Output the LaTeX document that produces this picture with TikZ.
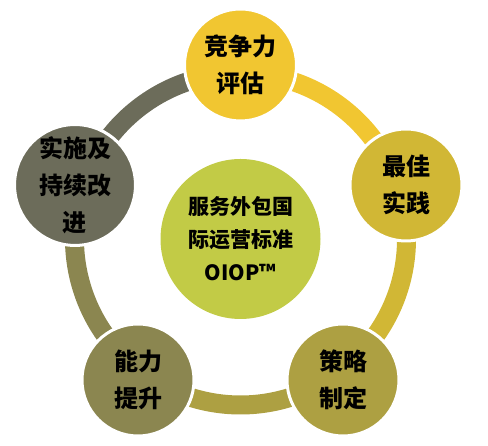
\documentclass[tikz,border=0pt]{standalone}
\usepackage{fontspec}
\usepackage{xcolor}
\usepackage{tikz}
\newfontfamily\cjk{Noto Sans CJK SC}[BoldFont={Noto Sans CJK SC Black}]
\definecolor{OIYellow}{HTML}{F1C631}
\definecolor{OIGold}{HTML}{D1B735}
\definecolor{OIOlive}{HTML}{ADA042}
\definecolor{OIKhaki}{HTML}{8B8650}
\definecolor{OIGrey}{HTML}{6C6C5A}
\definecolor{OILime}{HTML}{C2CB46}

\begin{document}
\begin{tikzpicture}[x=1pt,y=1pt,
  stage/.style={circle,minimum size=112pt,inner sep=0pt,draw=white,line width=3pt,
    align=center,font=\cjk\bfseries\fontsize{24}{37}\selectfont},
  hubdisc/.style={circle,minimum size=160pt,inner sep=0pt,fill=OILime,
    align=center,font=\cjk\bfseries\fontsize{21}{33}\selectfont},
  ring/.style={line width=19pt}]
\path[use as bounding box] (0,0) rectangle (488,446);
\coordinate (hub) at (240.5,207);
\draw[ring,OIYellow] (hub) ++(90:166) arc[start angle=90,end angle=18,radius=166];
\draw[ring,OIGold] (hub) ++(18:166) arc[start angle=18,end angle=-54,radius=166];
\draw[ring,OIOlive] (hub) ++(-54:166) arc[start angle=-54,end angle=-126,radius=166];
\draw[ring,OIKhaki] (hub) ++(-126:166) arc[start angle=-126,end angle=-198,radius=166];
\draw[ring,OIGrey] (hub) ++(162:166) arc[start angle=162,end angle=90,radius=166];
\node[hubdisc] (oiop) at (hub) {服务外包国\\际运营标准\\OIOP™};
\node[stage,fill=OIYellow] (assess) at (240.5,381) {竞争力\\评估};
\node[stage,fill=OIGold] (practice) at (406,261) {最佳\\实践};
\node[stage,fill=OIOlive] (strategy) at (343,66) {策略\\制定};
\node[stage,fill=OIKhaki] (ability) at (138,66) {能力\\提升};
\node[stage,fill=OIGrey] (improve) at (75,261) {实施及\\持续改\\进};
\end{tikzpicture}
\end{document}
